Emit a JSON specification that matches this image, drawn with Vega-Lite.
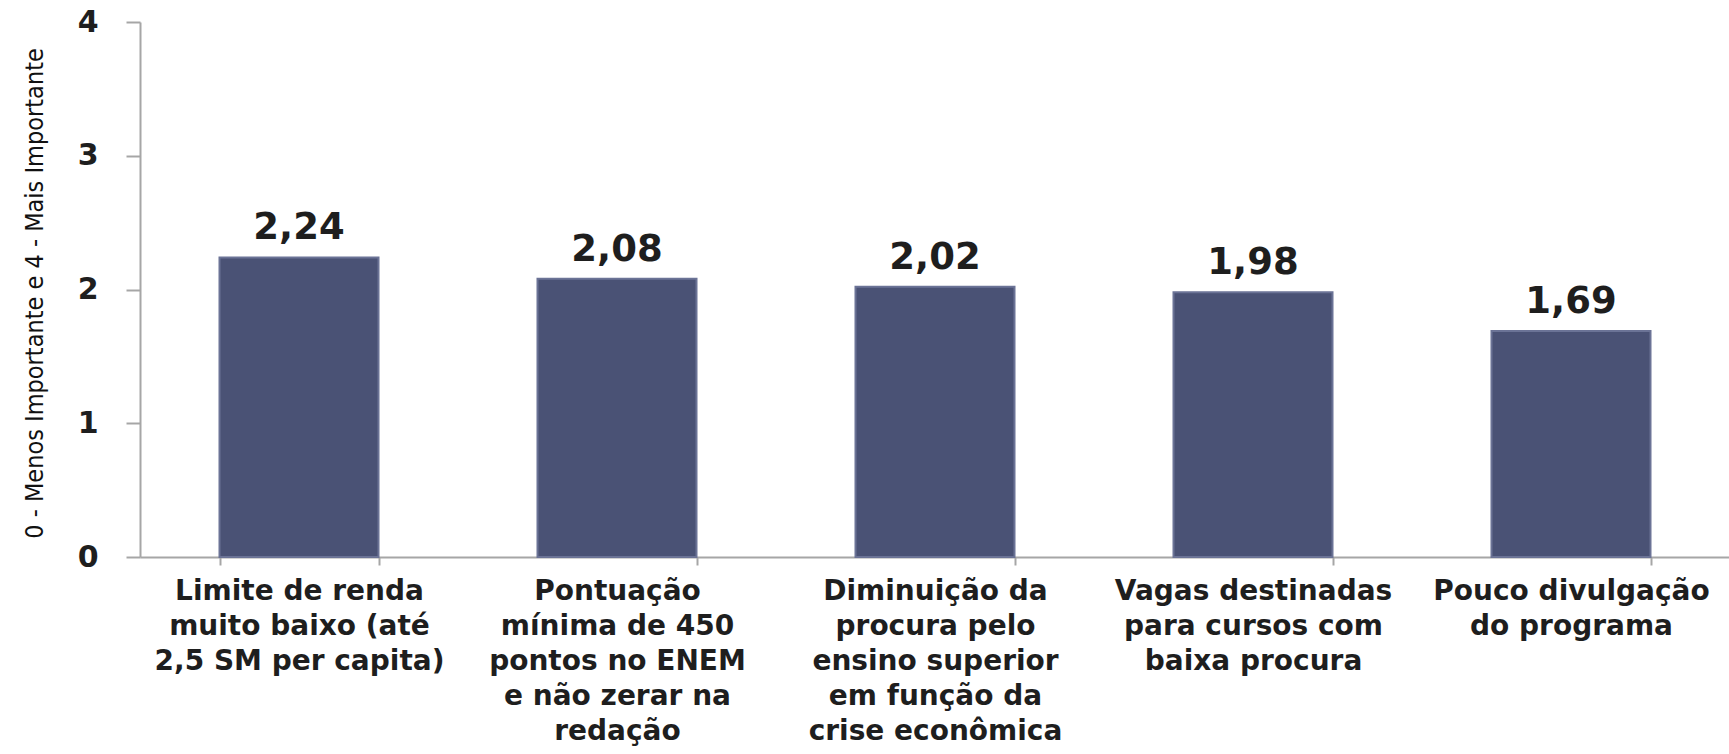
{
  "$schema": "https://vega.github.io/schema/vega-lite/v6.json",
  "autosize": {"type": "none"},
  "width": 1590,
  "height": 535,
  "padding": {"left": 140, "top": 22, "right": 0, "bottom": 197},
  "background": "white",
  "config": {
    "view": {"stroke": null},
    "locale": {"number": {"decimal": ",", "thousands": ".", "grouping": [3], "currency": ["R$", ""]}},
    "font": "DejaVu Sans"
  },
  "data": {
    "values": [
      {"motivo": "Limite de renda|muito baixo (até|2,5 SM per capita)", "valor": 2.24},
      {"motivo": "Pontuação|mínima de 450|pontos no ENEM|e não zerar na|redação", "valor": 2.08},
      {"motivo": "Diminuição da|procura pelo|ensino superior|em função da|crise econômica", "valor": 2.02},
      {"motivo": "Vagas destinadas|para cursos com|baixa procura", "valor": 1.98},
      {"motivo": "Pouco divulgação|do programa", "valor": 1.69}
    ]
  },
  "encoding": {
    "x": {
      "field": "motivo", "type": "nominal", "sort": null,
      "scale": {"paddingInner": 0.5, "paddingOuter": 0.25},
      "axis": {
        "title": null, "labelAngle": 0,
        "labelExpr": "split(datum.label, '|')",
        "labelFont": "DejaVu Sans", "labelFontWeight": "bold", "labelFontSize": 28,
        "labelColor": "#1e1e1e", "labelLineHeight": 35, "labelBaseline": "top",
        "labelPadding": 12, "labelLimit": 0, "labelOverlap": false,
        "tickBand": "extent", "tickSize": 8, "tickColor": "#a6a6a6", "tickWidth": 2,
        "domainColor": "#a6a6a6", "domainWidth": 2
      }
    },
    "y": {
      "field": "valor", "type": "quantitative",
      "scale": {"domain": [0, 4], "nice": false},
      "axis": {
        "values": [0, 1, 2, 3, 4], "grid": false, "format": "d",
        "title": "0 - Menos Importante e 4 - Mais Importante",
        "titleFont": "DejaVu Sans Condensed", "titleFontWeight": "normal", "titleFontSize": 25,
        "titleColor": "#111111", "titleAngle": -90, "titleX": -106, "titleY": 271,
        "titleAlign": "center", "titleBaseline": "middle",
        "labelFont": "DejaVu Sans", "labelFontWeight": "bold", "labelFontSize": 30,
        "labelColor": "#1e1e1e", "labelPadding": 28,
        "tickSize": 14, "tickColor": "#a6a6a6", "tickWidth": 2,
        "domainColor": "#a6a6a6", "domainWidth": 2
      }
    }
  },
  "layer": [
    {"mark": {"type": "bar", "color": "#4a5275", "stroke": "#6b7396", "strokeWidth": 2}},
    {
      "mark": {"type": "text", "baseline": "alphabetic", "dy": -18, "font": "DejaVu Sans", "fontWeight": "bold", "fontSize": 37, "color": "#1e1e1e"},
      "encoding": {"text": {"field": "valor", "type": "quantitative", "format": ".2f"}}
    }
  ]
}
